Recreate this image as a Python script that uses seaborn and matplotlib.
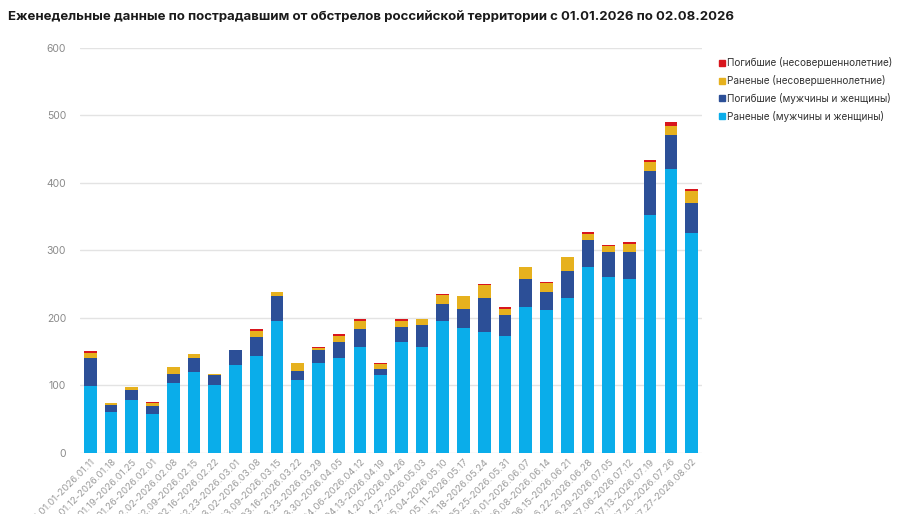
import numpy as np
import pandas as pd
import matplotlib
matplotlib.use('Agg')
import matplotlib.pyplot as plt
import seaborn as sns
from matplotlib.lines import Line2D

sns.set_style('white')
plt.rcParams['font.family'] = ['Inter', 'DejaVu Sans']

# week labels
weeks = ['2026.01.01-2026.01.11', '2026.01.12-2026.01.18', '2026.01.19-2026.01.25',
         '2026.01.26-2026.02.01', '2026.02.02-2026.02.08', '2026.02.09-2026.02.15',
         '2026.02.16-2026.02.22', '2026.02.23-2026.03.01', '2026.03.02-2026.03.08',
         '2026.03.09-2026.03.15', '2026.03.16-2026.03.22', '2026.03.23-2026.03.29',
         '2026.03.30-2026.04.05', '2026.04.06-2026.04.12', '2026.04.13-2026.04.19',
         '2026.04.20-2026.04.26', '2026.04.27-2026.05.03', '2026.05.04-2026.05.10',
         '2026.05.11-2026.05.17', '2026.05.18-2026.05.24', '2026.05.25-2026.05.31',
         '2026.06.01-2026.06.07', '2026.06.08-2026.06.14', '2026.06.15-2026.06.21',
         '2026.06.22-2026.06.28', '2026.06.29-2026.07.05', '2026.07.06-2026.07.12',
         '2026.07.13-2026.07.19', '2026.07.20-2026.07.26', '2026.07.27-2026.08.02']

wounded_adults = [99, 60, 79, 58, 104, 120, 101, 130, 144, 196, 108, 134, 140, 157, 115,
                  165, 157, 195, 185, 179, 174, 216, 212, 229, 276, 261, 258, 352, 421, 326]
killed_adults = [41, 11, 15, 11, 13, 20, 15, 22, 28, 37, 14, 18, 24, 26, 9,
                 22, 33, 25, 28, 50, 31, 42, 27, 41, 39, 37, 39, 66, 50, 44]
wounded_minors = [8, 3, 4, 5, 10, 6, 1, 0, 9, 6, 11, 4, 10, 12, 8,
                  9, 8, 14, 19, 20, 9, 18, 13, 20, 10, 8, 13, 13, 14, 18]
killed_minors = [3, 0, 0, 1, 0, 0, 0, 0, 2, 0, 0, 1, 2, 3, 1,
                 2, 1, 1, 1, 1, 3, 0, 1, 1, 3, 2, 2, 3, 6, 3]

df = pd.DataFrame({'week': weeks, 'wa': wounded_adults, 'ka': killed_adults,
                   'wm': wounded_minors, 'km': killed_minors})

c_wa = '#0AADEA'
c_ka = '#2C4F97'
c_wm = '#E6B11E'
c_km = '#D8161D'

fig = plt.figure(figsize=(9.12, 5.14), dpi=100)
ax = fig.add_axes([0.0877, 0.1187, 0.682, 0.788])

bottom = np.zeros(len(df))
for col, c in [('wa', c_wa), ('ka', c_ka), ('wm', c_wm), ('km', c_km)]:
    sns.barplot(data=df, x='week', y=col, color=c, bottom=bottom, width=0.61,
                saturation=1, ax=ax, linewidth=0)
    bottom = bottom + df[col].values

ax.set_ylim(0, 600)
ax.set_xlim(-0.5, len(df) - 0.5)
ax.set_yticks(range(0, 601, 100))
ax.yaxis.grid(True, color='#E3E3E3', linewidth=1)
ax.set_axisbelow(True)
for s in ax.spines.values():
    s.set_visible(False)
ax.set_xlabel('')
ax.set_ylabel('')
ax.tick_params(axis='y', colors='#8A8A8A', labelsize=7.5, length=0, pad=10)
ax.tick_params(axis='x', colors='#9A9A9A', labelsize=6.9, length=0, pad=3)
plt.setp(ax.get_xticklabels(), rotation=45, ha='right', rotation_mode='anchor')

fig.text(0.009, 0.967, 'Еженедельные данные по пострадавшим от обстрелов российской территории с 01.01.2026 по 02.08.2026',
         fontsize=9.5, fontweight='bold', color='#1A1A1A', va='center')

handles = [Line2D([], [], marker='s', linestyle='', color=c, markersize=4.5)
           for c in [c_km, c_wm, c_ka, c_wa]]
labels = ['Погибшие (несовершеннолетние)', 'Раненые (несовершеннолетние)',
          'Погибшие (мужчины и женщины)', 'Раненые (мужчины и женщины)']
fig.legend(handles, labels, loc='upper left', bbox_to_anchor=(0.777, 0.906), frameon=False,
           fontsize=7.2, handletextpad=0.1, labelspacing=0.68, handlelength=0.8,
           labelcolor='#333333')

fig.savefig('out.png', dpi=100)
